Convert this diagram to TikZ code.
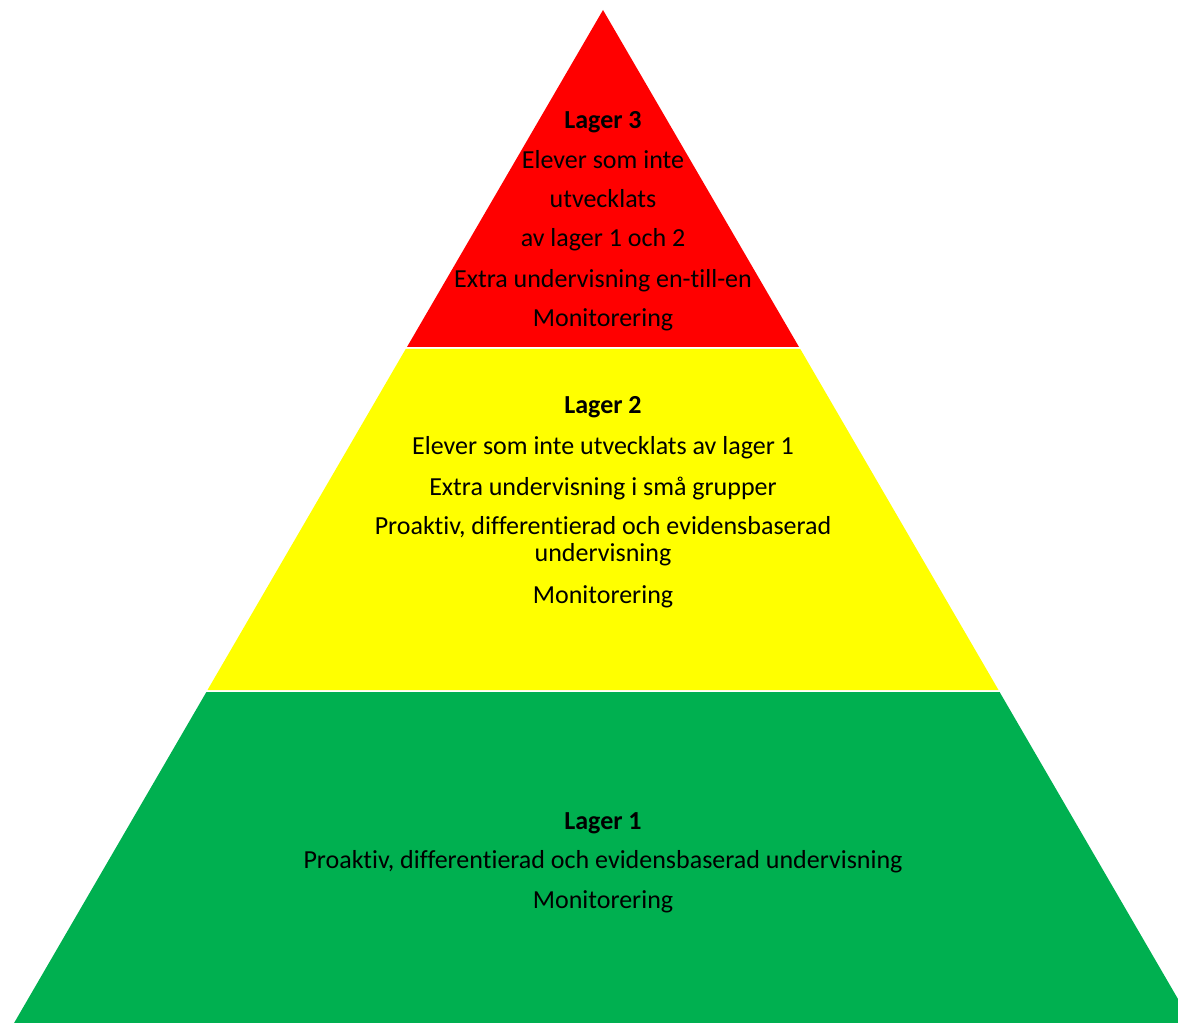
\documentclass[tikz,border=0pt]{standalone}
\usepackage{fontspec}
\setmainfont{Carlito}[RawFeature={-liga,-clig}]
\definecolor{lagerred}{HTML}{FF0000}
\definecolor{lageryellow}{HTML}{FFFF00}
\definecolor{lagergreen}{HTML}{00B050}
\begin{document}
\begin{tikzpicture}[x=0.75pt,y=-0.75pt,
  txt/.style={anchor=base,inner sep=0pt,font=\fontsize{19.5pt}{23pt}\selectfont,text=black},
  ttl/.style={txt,font=\fontsize{19.5pt}{23pt}\selectfont\bfseries}]
\useasboundingbox (0,0) rectangle (1178,1023);
\clip (0,0) rectangle (1178,1023);
% layers
\fill[lagerred] (603,10) -- (799,347) -- (407,347) -- cycle;
\fill[lageryellow] (405.7,349) -- (800.3,349) -- (998.5,690) -- (207.5,690) -- cycle;
\fill[lagergreen] (206.4,692) -- (999.6,692) -- (1196,1030) -- (10,1030) -- cycle;
% Lager 3
\node[ttl] (t3) at (603,129) {Lager 3};
\node[txt] (t3a) at (603,169) {Elever som inte};
\node[txt] (t3b) at (603,208) {utvecklats};
\node[txt] (t3c) at (603,247) {av lager 1 och 2};
\node[txt] (t3d) at (603,288) {Extra undervisning en-till-en};
\node[txt] (t3e) at (603,327) {Monitorering};
% Lager 2
\node[ttl] (t2) at (603,414) {Lager 2};
\node[txt] (t2a) at (603,455) {Elever som inte utvecklats av lager 1};
\node[txt] (t2b) at (603,495) {Extra undervisning i små grupper};
\node[txt] (t2c) at (603,534) {Proaktiv, differentierad och evidensbaserad};
\node[txt] (t2d) at (603,561) {undervisning};
\node[txt] (t2e) at (603,603) {Monitorering};
% Lager 1
\node[ttl] (t1) at (603,829) {Lager 1};
\node[txt] (t1a) at (603,868) {Proaktiv, differentierad och evidensbaserad undervisning};
\node[txt] (t1b) at (603,908) {Monitorering};
\end{tikzpicture}
\end{document}
